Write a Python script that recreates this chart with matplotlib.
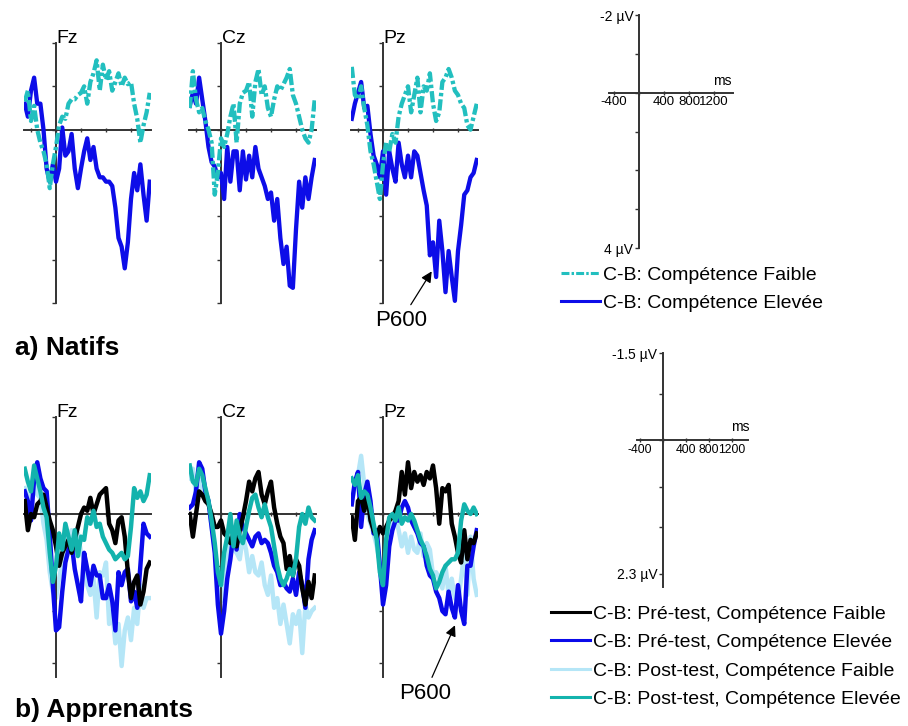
import matplotlib
matplotlib.use('Agg')
import matplotlib.pyplot as plt

plt.rcParams['font.family'] = ['Liberation Sans', 'DejaVu Sans']

W, H = 908, 726
PX_PER_MS = 0.0625

# sample times (ms)
t_ms = list(range(-500, 1501, 50))
electrodes = ['Fz', 'Cz', 'Pz']

# a) Natifs, C-B difference waves (µV, negative up)
nat_faible_fz = [-0.65, -0.9, -0.2, -0.55, 0.0, 0.3, 0.5, 0.8, 1.35, 0.8, 0.4, -0.1, -0.3, -0.25, -0.6, -0.7, -0.7, -0.8, -0.85, -1.0,
                 -0.6, -1.1, -1.3, -1.6, -0.9, -1.5, -1.15, -1.35, -0.9, -1.1, -1.3, -1.0, -1.2, -1.05, -1.1, -0.6, -0.25, 0.3, -0.1, -0.4, -0.85]
nat_eleve_fz = [-0.6, -0.3, -0.9, -1.2, -0.6, -0.6, 0.0, 0.9, 1.2, 0.8, 1.2, 0.9, -0.05, 0.6, 0.5, 0.1, 0.9, 1.35, 0.9, 0.5,
                0.2, 0.7, 0.4, 0.9, 1.1, 1.1, 1.2, 1.2, 1.3, 1.8, 2.5, 2.7, 3.2, 2.6, 1.6, 1.0, 1.4, 0.8, 1.5, 2.1, 1.2]
nat_faible_cz = [-0.5, -1.35, -0.7, -0.4, -0.5, -0.2, 0.0, 0.3, 1.5, 1.0, 0.2, 0.4, 0.1, -0.3, -0.6, 0.3, -0.6, -0.85, -0.9, -1.1,
                 -0.3, -1.1, -1.4, -0.8, -1.0, -0.5, -0.3, -0.7, -1.0, -0.9, -1.05, -1.2, -1.4, -0.8, -0.6, -0.3, 0.0, 0.2, 0.3, 0.0, -0.7]
nat_eleve_cz = [-0.55, -0.85, -0.6, -1.2, -0.7, -0.2, 0.4, 0.75, 0.85, 1.1, 1.0, 1.6, 0.4, 1.2, 0.5, 0.5, 1.4, 0.5, 1.15, 0.6,
                1.1, 0.4, 0.9, 1.1, 1.3, 1.6, 1.45, 2.1, 1.6, 2.5, 3.1, 2.7, 3.6, 3.65, 2.3, 1.2, 1.8, 1.1, 1.6, 1.1, 0.7]
nat_faible_pz = [-1.45, -0.8, -0.7, -1.0, -0.5, -0.1, 0.5, 0.8, 1.2, 1.6, 0.8, 0.3, 0.5, 0.1, 0.3, -0.3, -0.6, -0.8, -1.0, -0.4,
                 -0.8, -1.2, -0.4, -1.0, -0.9, -1.3, -0.6, -0.2, -0.4, -1.1, -1.2, -1.4, -1.2, -0.9, -0.8, -0.6, -0.5, -0.1, 0.0, -0.3, -0.6]
nat_eleve_pz = [-0.25, -0.6, -0.85, -1.1, -0.5, -0.55, 0.1, 0.6, 0.8, 1.1, 0.5, 1.5, 0.5, 0.9, 1.2, 0.3, 0.8, 1.1, 0.6, 1.1,
                0.5, 0.6, 1.0, 1.4, 1.75, 2.9, 2.6, 3.4, 2.1, 2.8, 3.75, 2.8, 3.4, 3.95, 2.8, 2.2, 1.5, 1.4, 1.1, 1.0, 0.7]

# b) Apprenants
pre_faible_fz = [-0.2, 0.25, 0.0, 0.05, -0.15, -0.2, -0.3, -0.1, 0.1, 0.25, 0.5, 0.8, 0.6, 0.5, 0.4, 0.6, 0.4, 0.2, 0.0, -0.1,
                 -0.05, -0.25, 0.0, -0.15, -0.3, -0.35, -0.4, 0.15, 0.25, 0.45, 0.1, 0.05, 0.35, 0.9, 1.3, 1.05, 0.95, 1.4, 1.2, 0.85, 0.75]
pre_eleve_fz = [-0.35, -0.2, 0.1, -0.55, -0.8, -0.55, -0.4, -0.35, 0.3, 1.1, 1.8, 1.75, 1.2, 0.75, 0.55, 0.45, 0.85, 1.1, 1.35, 0.6,
                0.85, 1.1, 0.8, 0.95, 0.95, 1.3, 1.3, 1.1, 1.35, 1.8, 0.9, 1.1, 0.9, 0.85, 1.35, 1.2, 1.45, 0.8, 0.15, 0.3, 0.35]
post_faible_fz = [-0.4, -0.2, -0.35, -0.5, -0.3, -0.25, 0.15, 0.4, 0.9, 1.2, 1.3, 1.0, 0.75, 0.3, 0.4, 0.25, 0.6, 0.3, 0.6, 0.7,
                  1.1, 1.25, 1.0, 1.6, 0.9, 0.95, 0.75, 1.7, 1.5, 2.0, 1.7, 2.35, 1.8, 1.6, 1.95, 1.45, 1.7, 1.1, 1.45, 1.3, 1.3]
post_eleve_fz = [-0.7, -0.5, -0.35, -0.75, -0.55, -0.35, -0.1, 0.05, 0.6, 1.05, 0.8, 0.3, 0.55, 0.15, 0.35, 0.55, 0.25, 0.65, 0.35, 0.4,
                 0.05, 0.15, -0.05, 0.2, 0.15, 0.35, 0.45, 0.55, 0.6, 0.7, 0.65, 0.6, 0.7, 0.65, 0.2, -0.4, -0.25, -0.35, -0.2, -0.3, -0.6]
pre_faible_cz = [0.0, 0.35, 0.0, -0.35, -0.3, -0.2, -0.15, 0.0, 0.2, 0.2, 0.1, 0.3, 0.35, 0.45, 0.3, 0.5, 0.25, 0.05, -0.2, -0.5,
                 -0.35, -0.55, -0.65, -0.3, -0.15, -0.35, -0.5, -0.1, 0.15, 0.35, 0.45, 0.85, 0.65, 0.95, 0.7, 0.8, 1.15, 1.4, 1.05, 1.3, 0.95]
pre_eleve_cz = [-0.1, -0.15, -0.35, -0.8, -0.7, -0.35, -0.2, 0.2, 0.6, 1.4, 1.85, 1.5, 1.0, 0.7, 0.3, 0.55, 0.0, 0.2, 0.3, 0.4,
                0.5, 0.35, 0.3, 0.45, 0.4, 0.45, 0.6, 0.8, 0.9, 1.1, 1.05, 1.15, 1.2, 1.0, 1.25, 0.9, 1.1, 1.45, 0.7, 0.4, 0.25]
post_faible_cz = [-0.55, -0.7, -0.3, -0.55, -0.4, -0.35, -0.2, 0.2, 0.55, 0.95, 1.35, 0.9, 0.6, 0.45, 0.55, 0.6, 0.7, 0.35, 0.55, 0.9,
                  0.65, 0.9, 0.95, 0.75, 1.1, 1.25, 0.95, 1.45, 1.3, 1.7, 1.4, 1.7, 2.0, 1.55, 1.7, 1.5, 2.15, 1.4, 1.6, 1.5, 1.45]
post_eleve_cz = [-0.75, -0.5, -0.45, -0.7, -0.6, -0.4, -0.2, 0.1, 0.45, 0.9, 1.1, 0.6, 0.35, 0.0, 0.5, 0.1, 0.35, 0.45, 0.2, -0.05,
                 -0.25, -0.3, -0.1, 0.05, -0.15, 0.05, 0.2, 0.5, 0.8, 1.0, 1.1, 1.0, 0.85, 0.95, 0.7, 0.2, 0.0, 0.15, -0.1, 0.05, 0.1]
pre_faible_pz = [0.05, 0.4, -0.2, -0.25, -0.05, -0.3, 0.1, 0.25, 0.35, 0.2, 0.3, 0.2, 0.1, 0.05, -0.05, -0.2, -0.65, -0.3, -0.8, -0.4,
                 -0.65, -0.5, -0.6, -0.45, -0.65, -0.55, -0.75, -0.4, 0.15, -0.4, -0.35, -0.45, 0.15, 0.35, 0.6, 0.75, 0.25, 0.7, 0.4, 0.45, 0.3]
pre_eleve_pz = [-0.15, -0.5, -0.65, 0.2, -0.3, -0.5, -0.2, 0.3, 0.25, 0.8, 1.4, 1.1, 0.5, 0.25, 0.1, 0.1, -0.1, -0.2, -0.1, 0.1,
                0.2, 0.3, 0.45, 0.5, 0.8, 0.95, 1.0, 1.2, 1.3, 1.5, 1.55, 1.2, 1.45, 1.6, 1.1, 1.5, 1.7, 0.8, 0.8, 0.5, 0.25]
post_faible_pz = [-0.2, -0.4, -0.6, -0.9, -0.45, 0.0, 0.15, 0.3, 0.5, 0.75, 1.0, 0.4, 0.2, 0.1, 0.05, 0.25, 0.5, 0.3, 0.6, 0.35,
                  0.55, 0.6, 0.3, 0.65, 0.45, 0.55, 0.95, 0.9, 1.0, 1.15, 0.8, 1.25, 1.0, 1.3, 1.35, 1.0, 0.6, 1.25, 0.35, 1.0, 1.25]
post_eleve_pz = [-0.55, -0.45, -0.6, -0.25, -0.35, -0.3, -0.1, 0.15, 0.4, 0.9, 1.1, 0.4, 0.05, 0.0, 0.1, -0.1, 0.15, 0.05, 0.1, 0.0,
                 0.1, 0.25, 0.4, 0.5, 0.65, 0.85, 0.95, 1.15, 1.05, 0.9, 0.8, 0.75, 0.7, 0.7, 0.6, 0.1, -0.15, -0.05, 0.0, -0.1, 0.0]

nat_labels = ['C-B: Compétence Faible', 'C-B: Compétence Elevée']
app_labels = ['C-B: Pré-test, Compétence Faible', 'C-B: Pré-test, Compétence Elevée',
              'C-B: Post-test, Compétence Faible', 'C-B: Post-test, Compétence Elevée']

nat_waves = {'Fz': [nat_faible_fz, nat_eleve_fz],
             'Cz': [nat_faible_cz, nat_eleve_cz],
             'Pz': [nat_faible_pz, nat_eleve_pz]}
app_waves = {'Fz': [pre_faible_fz, pre_eleve_fz, post_faible_fz, post_eleve_fz],
             'Cz': [pre_faible_cz, pre_eleve_cz, post_faible_cz, post_eleve_cz],
             'Pz': [pre_faible_pz, pre_eleve_pz, post_faible_pz, post_eleve_pz]}

TEAL = '#22bfbf'
BLUE = '#0d0de8'
app_colors = ['#000000', '#0a0aea', '#b5e6f7', '#13b3ad']
app_zorder = [4, 3, 2, 5]
AXC = '#333333'

fig = plt.figure(figsize=(W / 100, H / 100), dpi=100)


def make_axes(x0, top, bottom, xlim, ylim, pxms=PX_PER_MS):
    left = x0 + xlim[0] * pxms
    width = (xlim[1] - xlim[0]) * pxms
    ax = fig.add_axes([left / W, 1 - bottom / H, width / W, (bottom - top) / H])
    ax.set_xlim(*xlim)
    ax.set_ylim(ylim[1], ylim[0])  # negative up
    ax.patch.set_visible(False)
    for s in ['top', 'right']:
        ax.spines[s].set_visible(False)
    for s in ['left', 'bottom']:
        ax.spines[s].set_position(('data', 0))
        ax.spines[s].set_color(AXC)
        ax.spines[s].set_linewidth(1.4)
    ax.tick_params(axis='x', direction='inout', length=3, width=1, color=AXC, pad=1)
    ax.tick_params(axis='y', direction='out', length=3, width=1, color=AXC, pad=1)
    return ax


panel_x0 = [56, 221, 383]

# ---- a) Natifs ----
nat_lines = []
for x0, el in zip(panel_x0, electrodes):
    ax = make_axes(x0, 43, 303, (-520, 1520), (-2, 4))
    ax.set_xticks([-400, 0, 400, 800, 1200])
    ax.set_yticks([-2, -1, 0, 1, 2, 3, 4])
    ax.set_xticklabels([])
    ax.set_yticklabels([])
    faible, eleve = nat_waves[el]
    l2, = ax.plot(t_ms, eleve, color=BLUE, lw=3.1, zorder=3, solid_joinstyle='round')
    l1, = ax.plot(t_ms, faible, color=TEAL, lw=3.1, zorder=4, dashes=[2.6, 0.7, 0.8, 0.7])
    ax.text(12, -2, el, fontsize=14, ha='left', va='baseline')
    nat_lines = [l1, l2]
    if el == 'Pz':
        ax.annotate('P600', xy=(779, 3.27), xytext=(288, 4.4), fontsize=16,
                    ha='center', va='center', annotation_clip=False,
                    arrowprops=dict(arrowstyle='-|>', color='black', lw=0.9,
                                    mutation_scale=16, shrinkA=2, shrinkB=0))

# ---- b) Apprenants ----
app_lines = []
for x0, el in zip(panel_x0, electrodes):
    ax = make_axes(x0, 417, 677, (-520, 1520), (-1.5, 2.52))
    ax.set_xticks([-400, 0, 400, 800, 1200])
    ax.set_yticks([-1.5, -0.8, 0, 0.8, 1.5, 2.3])
    ax.set_xticklabels([])
    ax.set_yticklabels([])
    app_lines = []
    for wave, c, z in zip(app_waves[el], app_colors, app_zorder):
        ln, = ax.plot(t_ms, wave, color=c, lw=3.2, zorder=z, solid_joinstyle='round')
        app_lines.append(ln)
    ax.text(12, -1.5, el, fontsize=14, ha='left', va='baseline')
    if el == 'Pz':
        ax.annotate('P600', xy=(1152, 1.72), xytext=(672, 2.77), fontsize=16,
                    ha='center', va='center', annotation_clip=False,
                    arrowprops=dict(arrowstyle='-|>', color='black', lw=0.9,
                                    mutation_scale=16, shrinkA=2, shrinkB=0))

# ---- scale axes ----
sc1 = make_axes(639, 15, 248, (-480, 1500), (-2, 4))
sc1.set_xticks([-400, 0, 400, 800, 1200])
sc1.set_xticklabels(['-400', '', '400', '800', '1200'], fontsize=9.5)
sc1.set_yticks([-2, -1, 0, 1, 2, 3, 4])
sc1.set_yticklabels(['-2 µV', '', '', '', '', '', '4 µV'], fontsize=10)
sc1.text(1340, -0.12, 'ms', fontsize=10, ha='center', va='bottom')

sc2 = make_axes(663, 353, 587, (-450, 1480), (-1.5, 2.53), pxms=0.0575)
sc2.set_xticks([-400, 0, 400, 800, 1200])
sc2.set_xticklabels(['-400', '', '400', '800', '1200'], fontsize=8.8)
sc2.set_yticks([-1.5, -0.8, 0, 0.8, 1.5, 2.3])
sc2.set_yticklabels(['-1.5 µV', '', '', '', '', '2.3 µV'], fontsize=10)
sc2.text(1340, -0.1, 'ms', fontsize=10, ha='center', va='bottom')

# ---- legends ----
leg1 = fig.legend(nat_lines, nat_labels, loc='upper left', bbox_to_anchor=(561 / W, 1 - 266 / H),
                  frameon=False, fontsize=14, handlelength=2.0, handletextpad=0.15,
                  labelspacing=0.56, borderpad=0, borderaxespad=0)
leg2 = fig.legend(app_lines, app_labels, loc='upper left', bbox_to_anchor=(551 / W, 1 - 605 / H),
                  frameon=False, fontsize=14, handlelength=2.0, handletextpad=0.15,
                  labelspacing=0.56, borderpad=0, borderaxespad=0)
for lg in (leg1, leg2):
    for ln in lg.get_lines():
        ln.set_linewidth(2.2)

fig.text(15 / W, 1 - 355 / H, 'a) Natifs', fontsize=19, fontweight='bold', va='baseline')
fig.text(15 / W, 1 - 717 / H, 'b) Apprenants', fontsize=19, fontweight='bold', va='baseline')

fig.savefig('out.png', dpi=100)
